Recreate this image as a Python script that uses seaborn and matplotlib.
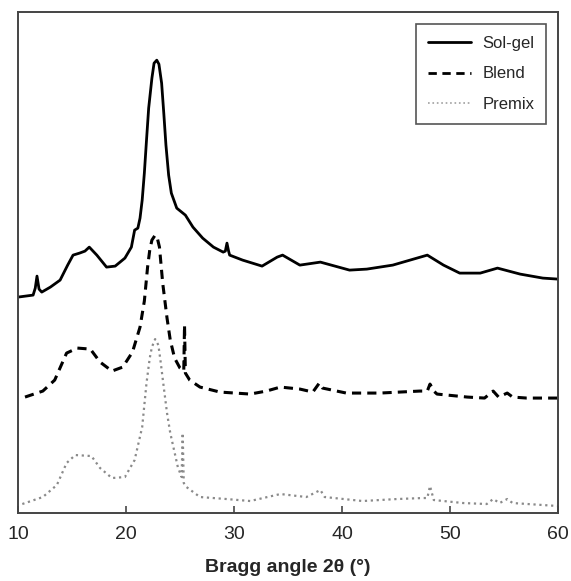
import pandas as pd
import seaborn as sns
from matplotlib import pyplot as plt

# values (intensity in arbitrary, offset units)
solgel_2theta = [10.0, 11.4, 11.6, 11.76, 11.95, 12.2, 13.0, 13.9, 14.6, 15.1, 15.7, 16.2, 16.6, 17.3,
                 18.2, 19.0, 19.9, 20.5, 20.8, 21.1, 21.3, 21.5, 21.7, 21.9, 22.1, 22.4, 22.6, 22.85,
                 23.05, 23.3, 23.5, 23.7, 23.95, 24.2, 24.7, 25.5, 26.2, 27.1, 28.1, 29.0, 29.2, 29.35,
                 29.5, 29.6, 30.8, 32.6, 34.0, 34.5, 36.1, 38.0, 40.7, 42.3, 44.7, 46.3, 47.9, 49.4,
                 50.9, 52.8, 54.4, 56.5, 58.6, 60.0]
solgel_int = [216, 218, 225, 237, 224, 221, 226, 233, 248, 258, 260, 262, 266, 258,
              246, 247, 255, 266, 283, 285, 295, 313, 340, 373, 405, 435, 450, 453,
              449, 430, 400, 368, 338, 320, 305, 298, 286, 275, 266, 261, 262, 270,
              262, 258, 253, 247, 256, 258, 248, 251, 243, 244, 248, 253, 258, 248,
              240, 240, 245, 239, 235, 234]

blend_2theta = [10.65, 12.3, 13.4, 14.5, 15.5, 16.7, 17.6, 18.7, 19.7, 20.6, 21.3, 21.7, 22.0, 22.2,
                22.4, 22.7, 22.9, 23.1, 23.4, 23.8, 24.1, 24.5, 25.0, 25.35, 25.42, 25.5, 25.9, 26.85,
                28.7, 31.5, 33.0, 34.3, 36.1, 37.3, 37.9, 38.2, 40.4, 43.5, 47.2, 47.9, 48.15, 48.5,
                48.8, 51.6, 53.2, 54.0, 54.5, 55.3, 55.8, 57.1, 60.0]
blend_int = [116, 122, 133, 160, 165, 164, 151, 142, 146, 161, 186, 212, 246, 263,
             273, 278, 275, 266, 230, 195, 173, 155, 145, 142, 188, 140, 133, 126,
             121, 119, 122, 126, 124, 121, 130, 125, 120, 120, 122, 122, 129, 122,
             119, 116, 115, 122, 116, 120, 116, 115, 115]

premix_2theta = [10.4, 12.3, 13.6, 14.5, 15.3, 16.8, 17.6, 18.7, 19.9, 20.8, 21.5, 21.9, 22.2, 22.4,
                 22.7, 23.0, 23.2, 23.45, 23.8, 24.1, 24.8, 25.15, 25.25, 25.35, 25.6, 26.85, 29.3,
                 31.5, 34.3, 36.7, 38.0, 38.4, 41.9, 45.1, 47.5, 47.9, 48.15, 48.5, 51.2, 53.4, 54.0,
                 54.6, 55.3, 55.8, 60.0]
premix_int = [9, 16, 28, 50, 58, 57, 45, 35, 36, 53, 86, 130, 155, 166,
              174, 168, 152, 130, 100, 80, 46, 36, 80, 30, 26, 16, 14,
              12, 19, 16, 23, 16, 12, 14, 15, 15, 27, 13, 10, 9, 14,
              10, 14, 10, 7]

sns.set_style("ticks", {"xtick.direction": "in"})
plt.rcParams["font.family"] = ["Liberation Sans", "DejaVu Sans"]

fig = plt.figure(figsize=(5.71, 5.81), dpi=100)
ax = fig.add_axes([0.0315, 0.117, 0.9457, 0.862])

sns.lineplot(ax=ax, x=solgel_2theta, y=solgel_int, color="black", lw=2.0, label="Sol-gel")
sns.lineplot(ax=ax, x=blend_2theta, y=blend_int, color="black", lw=2.2, label="Blend")
sns.lineplot(ax=ax, x=premix_2theta, y=premix_int, color="#8a8a8a", lw=1.6, label="Premix")
ax.lines[1].set_dashes((3.0, 2.0))
ax.lines[2].set_linestyle(":")

ax.set_xlim(10, 60)
ax.set_ylim(0, 501)
ax.set_xticks([10, 20, 30, 40, 50, 60])
ax.set_yticks([])
ax.tick_params(axis="x", direction="in", length=5, width=1.3, color="#555555",
               labelsize=14, pad=9, bottom=True, top=False)
ax.tick_params(axis="y", left=False, right=False)
for sp in ax.spines.values():
    sp.set_color("#444444")
    sp.set_linewidth(1.4)

ax.set_xlabel("Bragg angle 2θ (°)", fontsize=14, fontweight="bold", labelpad=12)
ax.set_ylabel("")

leg = ax.legend(loc="upper right", fontsize=12, fancybox=False, edgecolor="#555555",
                handlelength=2.6, handletextpad=0.7, borderaxespad=0.7, labelspacing=0.95,
                borderpad=0.7, framealpha=1)
leg.get_frame().set_linewidth(1.2)
for h in leg.get_lines()[:2]:
    h.set_linewidth(2.0)
leg.get_lines()[2].set_linewidth(1.2)
leg.get_lines()[2].set_color("#a0a0a0")

plt.savefig("out.png", dpi=100)
